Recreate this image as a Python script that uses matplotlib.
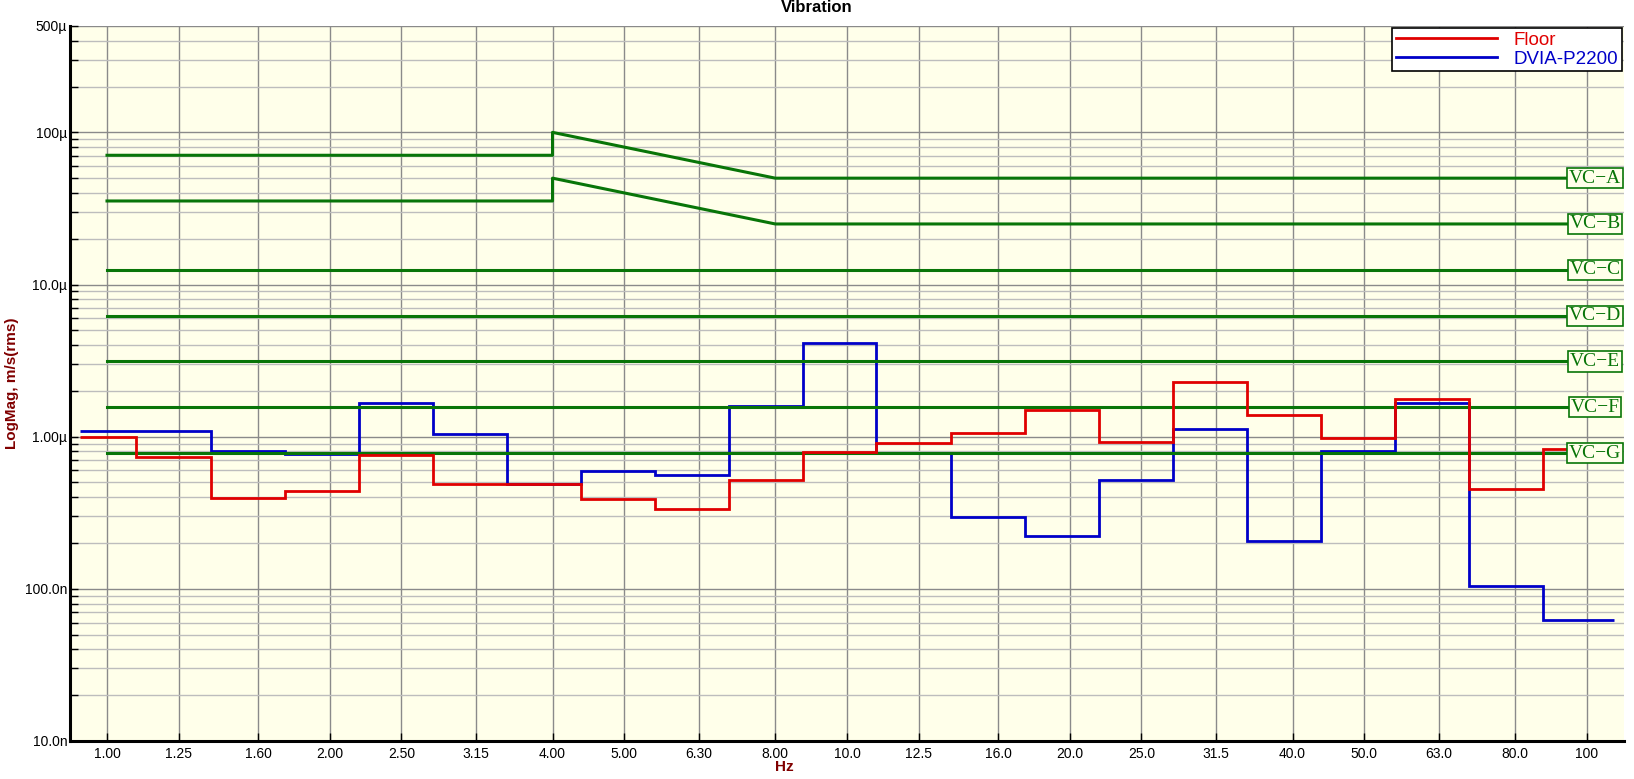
import matplotlib
matplotlib.use("Agg")
import matplotlib.pyplot as plt
from matplotlib.lines import Line2D
from matplotlib.ticker import FixedLocator, NullFormatter

plt.rcParams['font.family'] = ['Liberation Sans', 'DejaVu Sans']

# third-octave band edges (Hz) as drawn by the analyser
edge_hz = [0.919, 1.096, 1.380, 1.738, 2.188, 2.754, 3.467, 4.365, 5.495,
           6.918, 8.710, 10.96, 13.80, 17.38, 21.88, 27.54, 34.67, 43.65,
           54.95, 69.18, 87.10, 108.6]

# band levels, m/s rms
floor = [0.99e-6, 0.733e-6, 0.393e-6, 0.44e-6, 0.755e-6, 0.487e-6, 0.487e-6,
         0.39e-6, 0.336e-6, 0.518e-6, 0.795e-6, 0.911e-6, 1.057e-6, 1.49e-6,
         0.925e-6, 2.28e-6, 1.38e-6, 0.98e-6, 1.76e-6, 0.454e-6, 0.828e-6]
dvia = [1.087e-6, 1.087e-6, 0.80e-6, 0.767e-6, 1.66e-6, 1.04e-6, 0.49e-6,
        0.593e-6, 0.561e-6, 1.59e-6, 4.11e-6, 0.78e-6, 0.296e-6, 0.223e-6,
        0.518e-6, 1.12e-6, 0.207e-6, 0.80e-6, 1.67e-6, 0.104e-6, 0.0624e-6]

# vibration criteria curves
vc_names = ['VC\u2212A', 'VC\u2212B', 'VC\u2212C', 'VC\u2212D', 'VC\u2212E', 'VC\u2212F', 'VC\u2212G']
vc_hz = [1.0, 4.0, 4.0, 8.0, 94.0]
vc_a = [70.7e-6, 70.7e-6, 100e-6, 50e-6, 50e-6]
vc_b = [35.4e-6, 35.4e-6, 50e-6, 25e-6, 25e-6]
vc_flat = [12.5e-6, 6.25e-6, 3.12e-6, 1.56e-6, 0.78e-6]

x_ticks = [1.0, 1.25, 1.6, 2.0, 2.5, 3.15, 4.0, 5.0, 6.3, 8.0, 10.0, 12.5,
           16.0, 20.0, 25.0, 31.5, 40.0, 50.0, 63.0, 80.0, 100.0]
x_labels = ['1.00', '1.25', '1.60', '2.00', '2.50', '3.15', '4.00', '5.00',
            '6.30', '8.00', '10.0', '12.5', '16.0', '20.0', '25.0', '31.5',
            '40.0', '50.0', '63.0', '80.0', '100']
y_ticks = [1e-8, 1e-7, 1e-6, 1e-5, 1e-4, 5e-4]
y_labels = ['10.0n', '100.0n', '1.00\u00b5', '10.0\u00b5', '100\u00b5', '500\u00b5']

bg = '#FFFFEA'
green = '#087508'
red = '#E00000'
blue = '#0000C8'

W, H = 1634, 779
fig = plt.figure(figsize=(W / 100, H / 100), dpi=100)
L, R, T, B = 70, 1624, 26, 741
ax = fig.add_axes([L / W, 1 - B / H, (R - L) / W, (B - T) / H])
ax.set_facecolor(bg)
ax.set_xscale('log')
ax.set_yscale('log')
ax.set_xlim(10 ** -0.05, 10 ** 2.05)
ax.set_ylim(1e-8, 5e-4)

# grid
ax.xaxis.set_major_locator(FixedLocator(x_ticks))
ax.xaxis.set_minor_locator(FixedLocator([]))
ax.set_xticklabels(x_labels)
ax.xaxis.set_minor_formatter(NullFormatter())
ax.yaxis.set_major_locator(FixedLocator(y_ticks))
ax.set_yticklabels(y_labels)
minor_y = [m * 10 ** e for e in range(-8, -3) for m in range(2, 10)]
ax.yaxis.set_minor_locator(FixedLocator([v for v in minor_y if v < 4.5e-4]))
ax.yaxis.set_minor_formatter(NullFormatter())
ax.grid(True, which='major', axis='both', color='#8a8a8a', lw=1.0)
ax.grid(True, which='minor', axis='y', color='#bdbdbd', lw=1.0)
ax.set_axisbelow(True)

ax.tick_params(which='both', direction='in', length=6, width=1, color='black',
               labelsize=10, top=False, right=False)
ax.tick_params(axis='x', pad=4)
ax.tick_params(axis='y', pad=2)
for s in ['top', 'right']:
    ax.spines[s].set_visible(False)
for s in ['left', 'bottom']:
    ax.spines[s].set_linewidth(2.2)

# data
ax.stairs(dvia, edge_hz, baseline=None, color=blue, lw=2.0, zorder=2)
ax.plot(vc_hz, vc_a, color=green, lw=2.2, zorder=3)
ax.plot(vc_hz, vc_b, color=green, lw=2.2, zorder=3)
for v in vc_flat:
    ax.plot([vc_hz[0], vc_hz[-1]], [v, v], color=green, lw=2.2, zorder=3)
ax.stairs(floor, edge_hz, baseline=None, color=red, lw=2.0, zorder=4)

vc_levels = [vc_a[-1], vc_b[-1]] + vc_flat
lab_x = ((1567 + 1623) / 2 - L) / (R - L)
for name, v in zip(vc_names, vc_levels):
    ax.text(lab_x, v, name, transform=ax.get_yaxis_transform(), ha='center',
            va='center', color=green, fontsize=14,
            family=['Liberation Serif', 'DejaVu Serif'], zorder=6,
            bbox=dict(boxstyle='square,pad=0.08', fc=bg, ec=green, lw=1.2))

leg_h = [Line2D([], [], color=red, lw=2), Line2D([], [], color=blue, lw=2)]
leg = ax.legend(leg_h, ['Floor', 'DVIA-P2200'], loc='upper right',
                bbox_to_anchor=((1622 - L) / (R - L), 1 - 2 / (B - T)),
                borderaxespad=0, fontsize=13.5, handlelength=5.4,
                handletextpad=0.9, labelspacing=0.08, borderpad=0.2,
                fancybox=False, framealpha=1, edgecolor='black',
                facecolor='white')
leg.get_frame().set_linewidth(1.2)
leg.set_zorder(10)
for t, c in zip(leg.get_texts(), [red, blue]):
    t.set_color(c)

fig.text(817 / W, 1 - 8 / H, 'Vibration', ha='center', va='center',
         fontsize=12, fontweight='bold',
         family=['Liberation Sans Narrow', 'Liberation Sans'])
fig.text(784 / W, 1 - 767 / H, 'Hz', ha='center', va='center', fontsize=11,
         fontweight='bold', color='#800000')
fig.text(12 / W, 1 - 383 / H, 'LogMag, m/s(rms)', ha='center', va='center',
         rotation=90, fontsize=11, fontweight='bold', color='#800000')

fig.savefig('out.png', dpi=100)
